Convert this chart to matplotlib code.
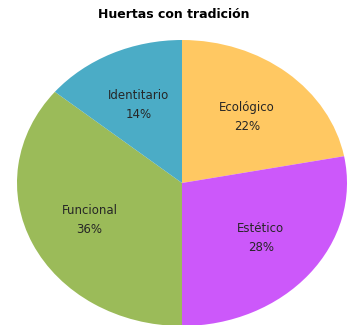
import matplotlib
matplotlib.use('Agg')
from matplotlib import pyplot as plt
import numpy as np

labels = ['Ecológico', 'Estético', 'Funcional', 'Identitario']
values = [22, 28, 36, 14]
colors = ['#FFC862', '#CC58FA', '#9BBB59', '#4BACC6']

fig = plt.figure(figsize=(3.48, 3.25), dpi=100)
ax = fig.add_axes([17 / 348, -1 / 325, 330 / 348, 286 / 325])

wedges, texts = ax.pie(values, colors=colors, startangle=90, counterclock=False,
                       wedgeprops={'linewidth': 0})
ax.set_aspect('auto')
ax.set_xlim(-1, 1)
ax.set_ylim(-1, 1)

# labels inside each slice
for w, lab, v in zip(wedges, labels, values):
    ang = np.deg2rad((w.theta1 + w.theta2) / 2)
    ax.text(0.62 * np.cos(ang), 0.6 * np.sin(ang), '%s\n%d%%' % (lab, v),
            ha='center', va='center', fontsize=8.5, color='#262626', linespacing=1.6)

fig.text(0.5, 1 - 15 / 325, 'Huertas con tradición', ha='center', va='center',
         fontsize=9, fontweight='bold')

plt.savefig('out.png', dpi=100)
